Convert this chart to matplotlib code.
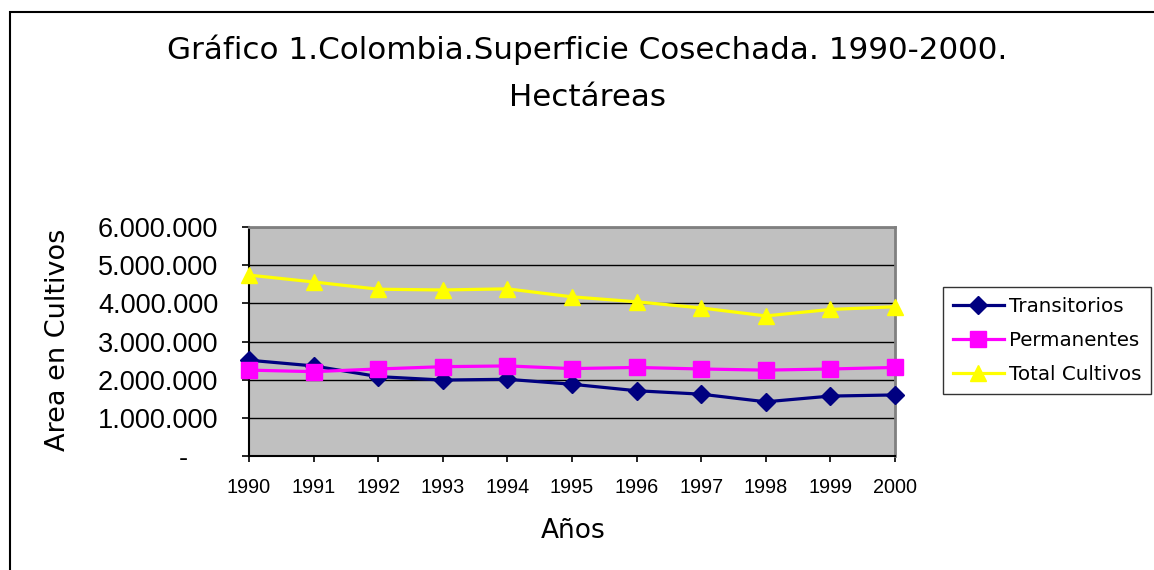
import matplotlib
matplotlib.use("Agg")
import matplotlib.pyplot as plt
from matplotlib.patches import Rectangle
from matplotlib.ticker import FixedLocator

years = [1990, 1991, 1992, 1993, 1994, 1995, 1996, 1997, 1998, 1999, 2000]
transitorios = [2510000, 2360000, 2080000, 1990000, 2010000, 1880000, 1710000, 1620000, 1420000, 1570000, 1600000]
permanentes = [2250000, 2210000, 2280000, 2340000, 2360000, 2290000, 2320000, 2280000, 2250000, 2280000, 2320000]
total = [4740000, 4560000, 4370000, 4350000, 4380000, 4170000, 4040000, 3880000, 3670000, 3840000, 3910000]
y_ticks = [0, 1000000, 2000000, 3000000, 4000000, 5000000, 6000000]
y_labels = ['-    ', '1.000.000', '2.000.000', '3.000.000', '4.000.000', '5.000.000', '6.000.000']

W, H = 1154, 570
fig = plt.figure(figsize=(W/100, H/100), dpi=100)
fig.patch.set_facecolor('white')

# outer chart border
fig.add_artist(Rectangle((10/W, -0.1), 1.2, (1 - 12/H) + 0.1, transform=fig.transFigure,
                         fill=False, edgecolor='black', linewidth=1.5))

ax = fig.add_axes([249/W, 1 - 456/H, (895-249)/W, (456-227)/H])
ax.set_facecolor('#C0C0C0')

tfont = 'DejaVu Sans'
ax.plot(years, transitorios, color='#000080', marker='D', markersize=9.5, linewidth=2.3,
        label='Transitorios', clip_on=False, zorder=3)
ax.plot(years, permanentes, color='#FF00FF', marker='s', markersize=11, linewidth=2.3,
        label='Permanentes', clip_on=False, zorder=3)
ax.plot(years, total, color='#FFFF00', marker='^', markersize=11.5, linewidth=2.3,
        label='Total Cultivos', clip_on=False, zorder=3)

ax.set_xlim(1990, 2000)
ax.set_ylim(0, 6000000)
ax.tick_params(axis='x', direction='out', length=4.5, width=1.2, pad=11)
ax.tick_params(axis='y', direction='out', length=5, width=1.2, pad=17)
ax.set_xticks(years)
ax.set_xticklabels([str(y) for y in years])
ax.yaxis.set_major_locator(FixedLocator(y_ticks))
ax.set_yticklabels(y_labels)
for lab in ax.get_xticklabels():
    lab.set_fontfamily('Liberation Sans')
    lab.set_fontsize(14.3)
for lab in ax.get_yticklabels():
    lab.set_fontfamily('Liberation Sans')
    lab.set_fontsize(19.5)
ax.grid(axis='y', color='black', linewidth=1.0)
ax.set_axisbelow(True)
for s in ['top', 'right']:
    ax.spines[s].set_color('#808080')
    ax.spines[s].set_linewidth(2)
ax.spines['left'].set_color('black')
ax.spines['left'].set_linewidth(1.5)
ax.spines['bottom'].set_color('black')
ax.spines['bottom'].set_linewidth(1.5)

fig.text(58/W, 1 - 340/H, 'Area en Cultivos', rotation=90, ha='center', va='center',
         fontsize=19.5, family=tfont)
fig.text(573/W, 1 - 531/H, 'Años', ha='center', va='center', fontsize=19, family=tfont)

fig.text(587/W, 1 - 50/H, 'Gráfico 1.Colombia.Superficie Cosechada. 1990-2000.',
         ha='center', va='center', fontsize=22.3, family=tfont)
fig.text(587/W, 1 - 97/H, 'Hectáreas', ha='center', va='center', fontsize=22.3, family=tfont)

leg = fig.legend(loc='upper left', bbox_to_anchor=(943/W, 1 - 287/H),
                 prop={'family': tfont, 'size': 14.3}, frameon=True, fancybox=False,
                 edgecolor='black', handlelength=2.55, borderpad=0.5, labelspacing=0.75,
                 handletextpad=0.25, borderaxespad=0)
leg.get_frame().set_linewidth(1.0)

fig.savefig('out.png', dpi=100)
